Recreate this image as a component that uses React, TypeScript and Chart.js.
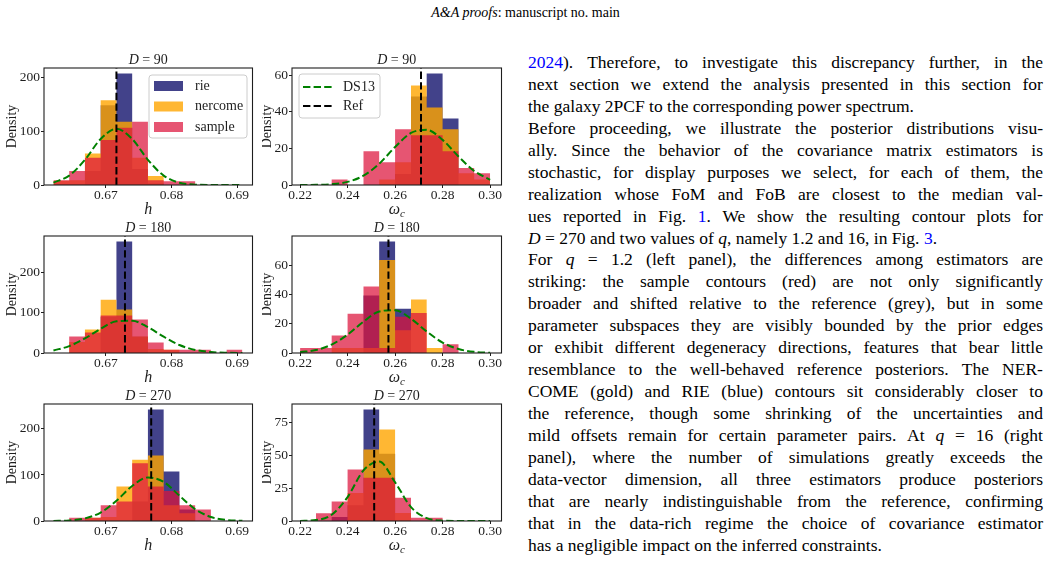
import React, { useEffect, useRef } from 'react';
import { Chart, registerables } from 'chart.js';

Chart.register(...registerables);

const SERIF = '"Liberation Serif", "Times New Roman", serif';
Chart.defaults.font.family = SERIF;

// Bin edges shared by every histogram of a column
const H_EDGES = [0.662, 0.6644, 0.6668, 0.6692, 0.6716, 0.674, 0.6764, 0.6788, 0.6812, 0.6836, 0.686, 0.6884, 0.6908];
const OMEGA_EDGES = [0.22, 0.2267, 0.2333, 0.24, 0.2467, 0.2533, 0.26, 0.2667, 0.2733, 0.28, 0.2867, 0.2933, 0.3];

const H_TICKS = [0.67, 0.68, 0.69];
const OMEGA_TICKS = [0.22, 0.24, 0.26, 0.28, 0.3];
const H_RANGE = [0.66056, 0.69234];
const OMEGA_RANGE = [0.2166, 0.3048];

// D = 90
const RIE_H_90 = [1, 1, 26, 149, 208, 30, 3, 0, 0, 0, 0, 0];
const NERCOME_H_90 = [8, 9, 59, 158, 118, 51, 17, 0, 0, 0, 0, 0];
const SAMPLE_H_90 = [9, 26, 51, 84, 107, 118, 9, 7, 7, 0, 0, 0];
const DS13_H_90 = [4.3, 17.5, 47, 86, 105, 86, 47, 17.5, 4.3, 0.7, 0.1, 0, 0];
const REF_H_90 = 0.6716;

const RIE_W_90 = [0, 0, 0, 0, 0, 0, 6, 48.5, 61, 36.4, 0, 0];
const NERCOME_W_90 = [0, 0, 0, 0, 0, 3, 12.4, 54.5, 42.4, 30.5, 6.4, 3];
const SAMPLE_W_90 = [0, 0, 3, 0, 18.5, 12.4, 30.5, 27.3, 27.3, 18.5, 9.3, 6.4];
const DS13_W_90 = [0.01, 0.09, 0.44, 1.7, 5.1, 11.6, 20.8, 28.5, 30.2, 24.7, 15.6, 7.7, 2.8];
const REF_W_90 = 0.2709;

// D = 180
const RIE_H_180 = [0, 0, 0, 90, 276, 40, 0, 0, 0, 0, 0, 0];
const NERCOME_H_180 = [0, 27, 58, 132, 108, 41, 10, 8, 0, 0, 0, 0];
const SAMPLE_H_180 = [0, 41, 51, 93, 93, 83, 26, 8, 8, 8, 0, 8];
const DS13_H_180 = [6.3, 17, 36, 60, 78.6, 80, 64, 40.3, 19.7, 7.6, 2.3, 0.5, 0.1];
const REF_H_180 = 0.6729;

const RIE_W_180 = [0, 0, 0, 0, 39.6, 76.7, 30.4, 0, 0, 0, 0, 0];
const NERCOME_W_180 = [0, 0, 3.4, 3.4, 3.4, 64, 15.6, 36.8, 3.4, 0, 0, 0];
const SAMPLE_W_180 = [3.4, 3.4, 12, 27, 45.8, 3.4, 25, 27.5, 0, 6, 0, 0];
const DS13_W_180 = [0.56, 2.0, 5.8, 12.6, 21.6, 28.6, 29.5, 23.6, 14.8, 7.2, 2.7, 0.8, 0.18];
const REF_W_180 = 0.2572;

// D = 270
const RIE_H_270 = [0, 0, 0, 0, 0, 42.6, 242, 107.6, 25, 0, 0, 0];
const NERCOME_H_270 = [0, 0, 7, 8.7, 75, 133, 142, 34, 17, 0, 0, 0];
const SAMPLE_H_270 = [0, 7, 7, 34, 42.6, 125.6, 75, 65, 34, 25, 0, 0];
const DS13_H_270 = [0.2, 1.2, 5.6, 18.4, 44, 76, 94.6, 85, 55, 25.6, 8.6, 2.1, 0.4];
const REF_H_270 = 0.6769;

const RIE_W_270 = [0, 0, 3, 12, 85.2, 51.4, 0, 0, 0, 0, 0, 0];
const NERCOME_W_270 = [0, 0, 0, 21.4, 54.7, 70, 6.1, 0, 0, 0, 0, 0];
const SAMPLE_W_270 = [0, 6, 15, 39.4, 33, 33, 17.8, 2.5, 2.5, 0, 0, 0];
const DS13_W_270 = [0.06, 0.7, 4.8, 18.3, 38.7, 45.4, 29.6, 10.6, 2.2, 0.24, 0.02, 0, 0];
const REF_W_270 = 0.2512;

const Y_TICKS_H = [0, 100, 200];
const Y_TICKS_W = [0, 20, 40, 60];
const Y_TICKS_W_270 = [0, 25, 50, 75];

const RIE_COLOR = 'rgba(25,25,112,0.82)';
const NERCOME_COLOR = 'rgba(255,165,0,0.8)';
const SAMPLE_COLOR = 'rgba(220,20,60,0.72)';
const DS13_COLOR = '#008000';
const INK = '#1e1e1e';

type Panel = {
  dim: number;
  param: 'h' | 'omega';
  edges: number[];
  rie: number[];
  nercome: number[];
  sample: number[];
  ds13: number[];
  ref: number;
  yTicks: number[];
  legend: 'hist' | 'lines' | null;
};

const PANELS: Panel[] = [
  { dim: 90, param: 'h', edges: H_EDGES, rie: RIE_H_90, nercome: NERCOME_H_90, sample: SAMPLE_H_90, ds13: DS13_H_90, ref: REF_H_90, yTicks: Y_TICKS_H, legend: 'hist' },
  { dim: 90, param: 'omega', edges: OMEGA_EDGES, rie: RIE_W_90, nercome: NERCOME_W_90, sample: SAMPLE_W_90, ds13: DS13_W_90, ref: REF_W_90, yTicks: Y_TICKS_W, legend: 'lines' },
  { dim: 180, param: 'h', edges: H_EDGES, rie: RIE_H_180, nercome: NERCOME_H_180, sample: SAMPLE_H_180, ds13: DS13_H_180, ref: REF_H_180, yTicks: Y_TICKS_H, legend: null },
  { dim: 180, param: 'omega', edges: OMEGA_EDGES, rie: RIE_W_180, nercome: NERCOME_W_180, sample: SAMPLE_W_180, ds13: DS13_W_180, ref: REF_W_180, yTicks: Y_TICKS_W, legend: null },
  { dim: 270, param: 'h', edges: H_EDGES, rie: RIE_H_270, nercome: NERCOME_H_270, sample: SAMPLE_H_270, ds13: DS13_H_270, ref: REF_H_270, yTicks: Y_TICKS_H, legend: null },
  { dim: 270, param: 'omega', edges: OMEGA_EDGES, rie: RIE_W_270, nercome: NERCOME_W_270, sample: SAMPLE_W_270, ds13: DS13_W_270, ref: REF_W_270, yTicks: Y_TICKS_W_270, legend: null },
];

// Page geometry of the 3x2 grid of axes
const ROW_TOPS = [68, 236, 404];
const AXES_H = 117;
const PAD_TOP = 30;
const X_AXIS_H = 40;
const COLS = [
  { canvasLeft: 0, canvasW: 262, areaLeft: 44, areaRight: 252.5, yLabelOffset: 32 },
  { canvasLeft: 262, canvasW: 250, areaLeft: 30, areaRight: 239.5, yLabelOffset: 25 },
];

// Each bin value is held from its left edge to the next edge
const stepPoints = (edges: number[], vals: number[]) =>
  edges.map((e, i) => ({ x: e, y: vals[Math.min(i, vals.length - 1)] }));

function roundRect(ctx: CanvasRenderingContext2D, x: number, y: number, w: number, h: number, r: number) {
  ctx.beginPath();
  ctx.moveTo(x + r, y);
  ctx.lineTo(x + w - r, y);
  ctx.arcTo(x + w, y, x + w, y + r, r);
  ctx.lineTo(x + w, y + h - r);
  ctx.arcTo(x + w, y + h, x + w - r, y + h, r);
  ctx.lineTo(x + r, y + h);
  ctx.arcTo(x, y + h, x, y + h - r, r);
  ctx.lineTo(x, y + r);
  ctx.arcTo(x, y, x + r, y, r);
  ctx.closePath();
}

function decorPlugin(p: Panel, yLabelOffset: number) {
  return {
    id: 'decor',
    afterDraw(chart: any) {
      const { ctx, chartArea: a } = chart;
      ctx.save();
      // axes frame
      ctx.strokeStyle = INK;
      ctx.lineWidth = 1.1;
      ctx.strokeRect(a.left, a.top, a.right - a.left, a.bottom - a.top);

      const cx = (a.left + a.right) / 2;
      ctx.fillStyle = INK;
      ctx.textBaseline = 'middle';
      ctx.textAlign = 'left';

      // title: D = n
      const ital = `italic 14px ${SERIF}`;
      const roman = `14px ${SERIF}`;
      ctx.font = ital;
      const wD = ctx.measureText('D').width;
      ctx.font = roman;
      const rest = ` = ${p.dim}`;
      const wR = ctx.measureText(rest).width;
      const tx = cx - (wD + wR) / 2;
      const ty = a.top - 7.5;
      ctx.font = ital;
      ctx.fillText('D', tx, ty);
      ctx.font = roman;
      ctx.fillText(rest, tx + wD, ty);

      // x label
      const ly = a.bottom + 25;
      if (p.param === 'h') {
        ctx.font = `italic 16px ${SERIF}`;
        ctx.textAlign = 'center';
        ctx.fillText('h', cx, ly);
      } else {
        ctx.font = `italic 16px ${SERIF}`;
        const wo = ctx.measureText('ω').width;
        ctx.font = `italic 11px ${SERIF}`;
        const wc = ctx.measureText('c').width;
        const sx = cx - (wo + wc) / 2;
        ctx.textAlign = 'left';
        ctx.font = `italic 16px ${SERIF}`;
        ctx.fillText('ω', sx, ly);
        ctx.font = `italic 11px ${SERIF}`;
        ctx.fillText('c', sx + wo, ly + 4);
      }

      // y label
      ctx.save();
      ctx.translate(a.left - yLabelOffset, (a.top + a.bottom) / 2);
      ctx.rotate(-Math.PI / 2);
      ctx.font = `14px ${SERIF}`;
      ctx.textAlign = 'center';
      ctx.fillText('Density', 0, 0);
      ctx.restore();

      // legends
      ctx.font = `14px ${SERIF}`;
      ctx.textAlign = 'left';
      if (p.legend === 'hist') {
        roundRect(ctx, a.left + 105, a.top + 7, 98, 63, 3);
        ctx.fillStyle = 'rgba(255,255,255,0.8)';
        ctx.fill();
        ctx.strokeStyle = '#cccccc';
        ctx.lineWidth = 1;
        ctx.stroke();
        const items: [string, string][] = [['rie', RIE_COLOR], ['nercome', NERCOME_COLOR], ['sample', SAMPLE_COLOR]];
        items.forEach(([label, color], i) => {
          const y = a.top + 18 + i * 20.5;
          ctx.fillStyle = color;
          ctx.fillRect(a.left + 110, y - 5, 29, 10);
          ctx.fillStyle = INK;
          ctx.fillText(label, a.left + 151, y);
        });
      } else if (p.legend === 'lines') {
        roundRect(ctx, a.left + 7, a.top + 6, 81, 44, 3);
        ctx.fillStyle = 'rgba(255,255,255,0.8)';
        ctx.fill();
        ctx.strokeStyle = '#cccccc';
        ctx.lineWidth = 1;
        ctx.stroke();
        const items: [string, string][] = [['DS13', DS13_COLOR], ['Ref', '#000000']];
        items.forEach(([label, color], i) => {
          const y = a.top + 19 + i * 19;
          ctx.strokeStyle = color;
          ctx.lineWidth = 2;
          ctx.setLineDash([7.4, 3.2]);
          ctx.beginPath();
          ctx.moveTo(a.left + 11, y);
          ctx.lineTo(a.left + 40, y);
          ctx.stroke();
          ctx.setLineDash([]);
          ctx.fillStyle = INK;
          ctx.fillText(label, a.left + 51, y);
        });
      }
      ctx.restore();
    },
  };
}

function HistPanel({ p, row, col }: { p: Panel; row: number; col: number }) {
  const ref = useRef<HTMLCanvasElement>(null);
  const c = COLS[col];
  const canvasH = PAD_TOP + AXES_H + X_AXIS_H;
  const canvasTop = ROW_TOPS[row] - PAD_TOP;

  useEffect(() => {
    const isH = p.param === 'h';
    const range = isH ? H_RANGE : OMEGA_RANGE;
    const xTicks = isH ? H_TICKS : OMEGA_TICKS;
    const yMax = 1.05 * Math.max(...p.rie, ...p.nercome, ...p.sample);
    const hist = (vals: number[], color: string, order: number, label: string) => ({
      label,
      data: stepPoints(p.edges, vals),
      stepped: 'before' as const,
      fill: 'origin',
      backgroundColor: color,
      borderColor: 'transparent',
      borderWidth: 0,
      pointRadius: 0,
      order,
    });
    const chart = new Chart(ref.current!, {
      type: 'line',
      data: {
        datasets: [
          {
            label: 'Ref',
            data: [{ x: p.ref, y: 0 }, { x: p.ref, y: yMax }],
            borderColor: '#000000',
            borderWidth: 2,
            borderDash: [7.4, 3.2],
            pointRadius: 0,
            fill: false,
            order: 0,
          },
          {
            label: 'DS13',
            data: p.edges.map((e, i) => ({ x: e, y: p.ds13[i] })),
            borderColor: DS13_COLOR,
            borderWidth: 2,
            borderDash: [7.4, 3.2],
            pointRadius: 0,
            cubicInterpolationMode: 'monotone',
            fill: false,
            order: 1,
          },
          hist(p.sample, SAMPLE_COLOR, 2, 'sample'),
          hist(p.nercome, NERCOME_COLOR, 3, 'nercome'),
          hist(p.rie, RIE_COLOR, 4, 'rie'),
        ] as any,
      },
      options: {
        animation: false,
        responsive: false,
        events: [],
        devicePixelRatio: 1,
        layout: { padding: { left: 0, top: PAD_TOP, right: c.canvasW - c.areaRight, bottom: 0 } },
        plugins: { legend: { display: false }, tooltip: { enabled: false }, title: { display: false } },
        scales: {
          x: {
            type: 'linear',
            min: range[0],
            max: range[1],
            afterBuildTicks: (s: any) => {
              s.ticks = xTicks.map((v) => ({ value: v }));
            },
            afterFit: (s: any) => {
              s.height = X_AXIS_H;
            },
            ticks: {
              callback: (v: any) => Number(v).toFixed(2),
              font: { family: SERIF, size: 13.5 },
              color: INK,
              padding: -1,
              maxRotation: 0,
              autoSkip: false,
            },
            grid: { display: true, drawOnChartArea: false, drawTicks: true, tickLength: 3, color: INK },
            border: { display: false },
          },
          y: {
            type: 'linear',
            min: 0,
            max: yMax,
            afterBuildTicks: (s: any) => {
              s.ticks = p.yTicks.map((v) => ({ value: v }));
            },
            afterFit: (s: any) => {
              s.width = c.areaLeft;
            },
            ticks: {
              callback: (v: any) => String(v),
              font: { family: SERIF, size: 13.5 },
              color: INK,
              padding: 1,
              autoSkip: false,
            },
            grid: { display: true, drawOnChartArea: false, drawTicks: true, tickLength: 3, color: INK },
            border: { display: false },
          },
        },
      } as any,
      plugins: [decorPlugin(p, c.yLabelOffset)],
    });
    return () => chart.destroy();
  }, [p, c]);

  return (
    <canvas
      ref={ref}
      width={c.canvasW}
      height={canvasH}
      style={{ position: 'absolute', left: c.canvasLeft, top: canvasTop, width: c.canvasW, height: canvasH }}
    />
  );
}

// Body text beside the figure: _x_ marks italics, #x# marks cross-reference links
const TEXT_LINES: { t: string; last?: boolean }[] = [
  { t: '#2024#). Therefore, to investigate this discrepancy further, in the' },
  { t: 'next section we extend the analysis presented in this section for' },
  { t: 'the galaxy 2PCF to the corresponding power spectrum.', last: true },
  { t: 'Before proceeding, we illustrate the posterior distributions visu-' },
  { t: 'ally. Since the behavior of the covariance matrix estimators is' },
  { t: 'stochastic, for display purposes we select, for each of them, the' },
  { t: 'realization whose FoM and FoB are closest to the median val-' },
  { t: 'ues reported in Fig. #1#. We show the resulting contour plots for' },
  { t: '_D_ = 270 and two values of _q_, namely 1.2 and 16, in Fig. #3#.', last: true },
  { t: 'For _q_ = 1.2 (left panel), the differences among estimators are' },
  { t: 'striking: the sample contours (red) are not only significantly' },
  { t: 'broader and shifted relative to the reference (grey), but in some' },
  { t: 'parameter subspaces they are visibly bounded by the prior edges' },
  { t: 'or exhibit different degeneracy directions, features that bear little' },
  { t: 'resemblance to the well-behaved reference posteriors. The NER-' },
  { t: 'COME (gold) and RIE (blue) contours sit considerably closer to' },
  { t: 'the reference, though some shrinking of the uncertainties and' },
  { t: 'mild offsets remain for certain parameter pairs. At _q_ = 16 (right' },
  { t: 'panel), where the number of simulations greatly exceeds the' },
  { t: 'data-vector dimension, all three estimators produce posteriors' },
  { t: 'that are nearly indistinguishable from the reference, confirming' },
  { t: 'that in the data-rich regime the choice of covariance estimator' },
  { t: 'has a negligible impact on the inferred constraints.', last: true },
];

const LINE_H = 21.95;

function Word({ w }: { w: string }) {
  const parts = w.split(/(_[^_]+_|#[^#]+#)/).filter(Boolean);
  return (
    <span>
      {parts.map((s, i) => {
        if (s.length > 2 && s[0] === '_' && s[s.length - 1] === '_') return <i key={i}>{s.slice(1, -1)}</i>;
        if (s.length > 2 && s[0] === '#' && s[s.length - 1] === '#')
          return (
            <span key={i} style={{ color: '#0000ff' }}>
              {s.slice(1, -1)}
            </span>
          );
        return <React.Fragment key={i}>{s}</React.Fragment>;
      })}
    </span>
  );
}

function BodyText() {
  return (
    <div
      style={{
        position: 'absolute',
        left: 528,
        top: 52,
        width: 515,
        fontFamily: SERIF,
        fontSize: 17.5,
        color: '#000',
      }}
    >
      {TEXT_LINES.map((ln, i) => {
        const words = ln.t.split(' ');
        if (ln.last) {
          return (
            <div key={i} style={{ height: LINE_H, lineHeight: `${LINE_H}px`, whiteSpace: 'nowrap' }}>
              {words.map((w, j) => (
                <React.Fragment key={j}>
                  {j > 0 ? ' ' : null}
                  <Word w={w} />
                </React.Fragment>
              ))}
            </div>
          );
        }
        return (
          <div
            key={i}
            style={{
              height: LINE_H,
              lineHeight: `${LINE_H}px`,
              whiteSpace: 'nowrap',
              display: 'flex',
              justifyContent: 'space-between',
            }}
          >
            {words.map((w, j) => (
              <Word key={j} w={w} />
            ))}
          </div>
        );
      })}
    </div>
  );
}

export default function App() {
  return (
    <div style={{ position: 'absolute', left: 0, top: 0, width: 1051, height: 562, background: '#fff', overflow: 'hidden' }}>
      <div
        style={{
          position: 'absolute',
          left: 0,
          top: 4,
          width: 1051,
          textAlign: 'center',
          fontFamily: SERIF,
          fontSize: 14,
          lineHeight: '18px',
          color: '#000',
        }}
      >
        <i>A&amp;A proofs</i>: manuscript no. main
      </div>
      {PANELS.map((p, i) => (
        <HistPanel key={i} p={p} row={Math.floor(i / 2)} col={i % 2} />
      ))}
      <BodyText />
    </div>
  );
}
